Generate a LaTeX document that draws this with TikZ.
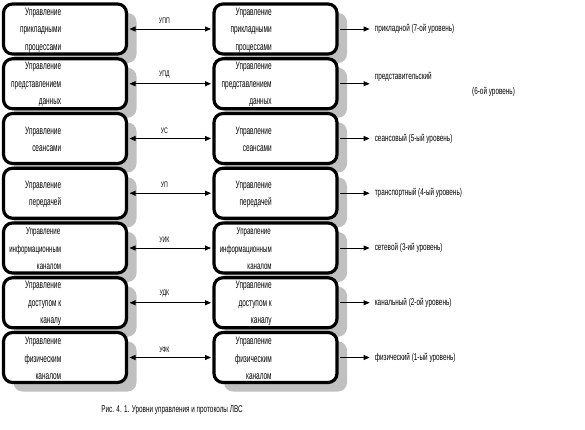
\documentclass[tikz,border=0pt]{standalone}
\usepackage{fontspec}
\setmainfont{Liberation Sans}[FakeStretch=0.65]
\newfontfamily\boxfont{Liberation Sans}[FakeStretch=0.6]
\newcommand{\smallbox}{\fontsize{10.2}{17.5}\selectfont}
\usetikzlibrary{arrows.meta,shadows,calc}
\definecolor{shadowgray}{RGB}{192,192,192}
\newcommand{\layrow}[3]{%
  \pgfmathsetmacro{\yy}{29+54.75*(#1-1)}
  \node[lay] (L#1) at (65,\yy) {};
  \node[lay] (R#1) at (275.5,\yy) {};
  \node[btxt] (Lt#1) at ($(L#1.west)+(59.5,1)$) {#2};
  \node[btxt] (Rt#1) at ($(R#1.west)+(59.5,1)$) {#2};
  \draw[conn] (L#1.east) -- node[proto, pos=0.43, above=4pt] (P#1) {#3} (R#1.west);
  \coordinate (E#1) at ($(R#1.east)+(31,0)$);
  \draw[outarrow] (R#1.east) -- (E#1);
}
\begin{document}
\begin{tikzpicture}[x=1pt,y=-1pt,
  lay/.style={draw, line width=3.2pt, rounded corners=9pt, fill=white,
    minimum width=123pt, minimum height=50pt, inner sep=0pt,
    general shadow={fill=shadowgray, shadow xshift=10pt, shadow yshift=-9pt}},
  btxt/.style={anchor=east, align=right, inner sep=0pt, font=\boxfont\fontsize{10.8}{17.5}\selectfont},
  proto/.style={font=\fontsize{8}{9}\selectfont, inner sep=1pt},
  lvl/.style={anchor=west, font=\fontsize{9.8}{11}\selectfont, inner sep=0pt},
  conn/.style={line width=0.8pt, shorten <=1.4pt, shorten >=1.4pt,
    {Triangle[length=6pt,width=5pt]}-{Triangle[length=6pt,width=5pt]}},
  outarrow/.style={line width=0.8pt, shorten <=1.4pt, -{Triangle[length=6pt,width=5pt]}}]
\useasboundingbox (0,0) rectangle (585,430);
\layrow{1}{Управление\\прикладными\\процессами}{УПП}
\layrow{2}{Управление\\представлением\hspace*{7pt}\\данных}{УПД}
\layrow{3}{Управление\\сеансами}{УС}
\layrow{4}{Управление\\передачей}{УП}
\layrow{5}{\smallbox Управление\hspace*{1pt}\\\smallbox информационным\hspace*{6pt}\\\smallbox каналом}{УИК}
\layrow{6}{Управление\\доступом к\\каналу}{УДК}
\layrow{7}{Управление\\физическим\\каналом}{УФК}
\node[lvl] (V1) at ($(E1)+(5,0)$) {прикладной (7-ой уровень)};
\node[lvl] (V2) at ($(E2)+(5,-7)$) {представительский};
\node[lvl] (V2b) at (472,92) {(6-ой уровень)};
\node[lvl] (V3) at ($(E3)+(5,0)$) {сеансовый (5-ый уровень)};
\node[lvl] (V4) at ($(E4)+(5,0)$) {транспортный (4-ый уровень)};
\node[lvl] (V5) at ($(E5)+(5,0)$) {сетевой (3-ий уровень)};
\node[lvl] (V6) at ($(E6)+(5,0)$) {канальный (2-ой уровень)};
\node[lvl] (V7) at ($(E7)+(5,0)$) {физический (1-ый уровень)};
\node[font=\fontsize{9.8}{11}\selectfont] (cap) at (172,410) {Рис. 4. 1. Уровни управления и протоколы ЛВС};
\end{tikzpicture}
\end{document}
